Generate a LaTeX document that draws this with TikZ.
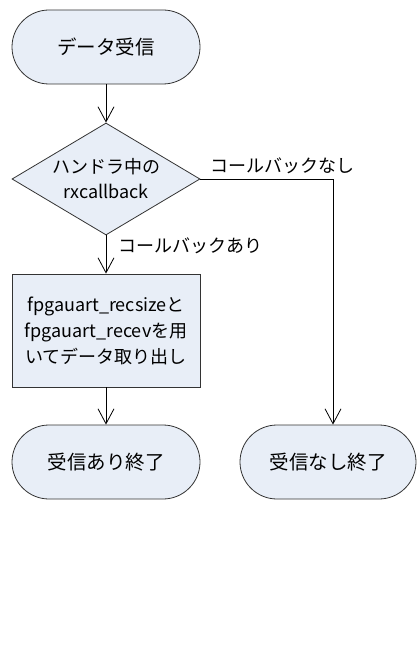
\documentclass[tikz,border=0pt]{standalone}
\usepackage{fontspec}
\setmainfont{Noto Sans CJK JP}
\usetikzlibrary{shapes.geometric,arrows.meta}
\definecolor{boxfill}{RGB}{232,238,247}
\tikzset{
  terminal/.style={draw=black!80,fill=boxfill,rounded corners=37pt,minimum width=188pt,minimum height=74pt,inner sep=0pt,font=\fontsize{19.5}{24}\selectfont},
  decision/.style={draw=black!80,fill=boxfill,diamond,aspect=1.68,minimum width=188pt,minimum height=112pt,inner sep=0pt,align=center},
  process/.style={draw=black!80,fill=boxfill,minimum width=188pt,minimum height=113pt,inner sep=0pt,align=center},
  flow/.style={line width=0.8pt,-{Straight Barb[length=15pt,width=16pt,line width=0.8pt]}},
  tag/.style={inner sep=0pt}
}
\begin{document}
\begin{tikzpicture}[x=1pt,y=-1pt,font=\fontsize{18}{26}\selectfont,line width=0.8pt]
  \useasboundingbox (0,0) rectangle (417,647); %cadre
  \node[terminal] (start) at (106,47) {データ受信}; %Debut
  \node[decision] (dec) at (106,179) {ハンドラ中の\\[-1pt]rxcallback}; %Test
  \node[process] (proc) at (106,330.5) {fpgauart\_recsizeと\\fpgauart\_recevを用\\いてデータ取り出し}; %Traitement
  \node[terminal] (endyes) at (106,462) {受信あり終了}; %Fin gauche
  \node[terminal,minimum width=176pt] (endno) at (328,462) {受信なし終了}; %Fin droite
  \draw[flow] (start) -- (dec);
  \draw[flow] (dec) -- node[tag,pos=0.28,anchor=west,xshift=12pt] (lblyes) {コールバックあり} (proc);
  \draw[flow] (proc) -- (endyes);
  \draw[flow] (dec.east) -| node[tag,pos=0,anchor=south west,xshift=10pt,yshift=5pt] (lblno) {コールバックなし} ([xshift=5pt]endno.north);
\end{tikzpicture}
\end{document}
